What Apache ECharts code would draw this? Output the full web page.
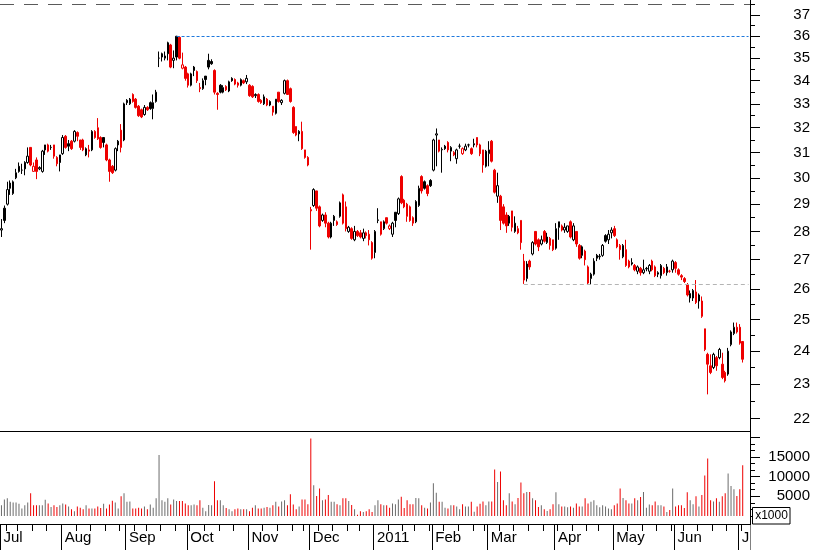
<!DOCTYPE html>
<html><head><meta charset="utf-8">
<script src="https://cdn.jsdelivr.net/npm/echarts@6/dist/echarts.min.js"></script>
<style>html,body{margin:0;padding:0;background:#fff}#c{width:817px;height:550px}</style>
</head><body><div id="c"></div>
<script>
// ---- trading calendar (explicit trading days per month) ----
const tradingDays = [
  ['2010-07', [1,2,6,7,8,9,12,13,14,15,16,19,20,21,22,23,26,27,28,29,30]],
  ['2010-08', [2,3,4,5,6,9,10,11,12,13,16,17,18,19,20,23,24,25,26,27,30,31]],
  ['2010-09', [1,2,3,7,8,9,10,13,14,15,16,17,20,21,22,23,24,27,28,29,30]],
  ['2010-10', [1,4,5,6,7,8,11,12,13,14,15,18,19,20,21,22,25,26,27,28,29]],
  ['2010-11', [1,2,3,4,5,8,9,10,11,12,15,16,17,18,19,22,23,24,26,29,30]],
  ['2010-12', [1,2,3,6,7,8,9,10,13,14,15,16,17,20,21,22,23,27,28,29,30,31]],
  ['2011-01', [3,4,5,6,7,10,11,12,13,14,18,19,20,21,24,25,26,27,28,31]],
  ['2011-02', [1,2,3,4,7,8,9,10,11,14,15,16,17,18,22,23,24,25,28]],
  ['2011-03', [1,2,3,4,7,8,9,10,11,14,15,16,17,18,21,22,23,24,25,28,29,30,31]],
  ['2011-04', [1,4,5,6,7,8,11,12,13,14,15,18,19,20,21,25,26,27,28,29]],
  ['2011-05', [2,3,4,5,6,9,10,11,12,13,16,17,18,19,20,23,24,25,26,27,31]],
  ['2011-06', [1,2,3,6,7,8,9,10,13,14,15,16,17,20,21,22,23,24,27,28,29,30]],
  ['2011-07', [1,5]]
];
const emptyDays = ['2011-07-06','2011-07-07'];

// ---- prices (one row per month) ----
const opens = [
  28.05,28.85,29.0,29.8,29.4,30.0,30.45,30.3,30.6,30.6,31.2,30.25,30.7,30.35,30.25,31.3,31.3,31.2,31.3,30.8,30.9,
  30.95,31.65,31.35,31.45,31.45,31.8,31.5,31.5,30.9,31.1,31.1,31.85,32.0,31.6,31.6,31.3,30.7,30.45,30.3,31.45,31.9,31.5,
  33.15,33.0,33.4,33.2,32.9,32.75,32.55,32.85,33.05,32.8,33.1,35.0,35.2,35.0,35.7,35.6,34.9,36.0,35.95,34.55,34.6,
  34.3,33.8,34.6,34.4,33.7,33.65,34.2,34.9,34.85,34.45,33.45,33.8,33.5,33.75,33.55,34.1,34.05,33.9,33.8,34.0,33.95,
  33.8,33.75,33.35,33.4,33.15,33.0,33.2,32.95,32.9,32.6,33.5,33.05,33.45,34.0,33.65,32.85,32.05,31.85,31.85,31.1,30.8,
  28.75,28.95,29.5,28.9,28.4,28.6,28.3,27.8,28.55,28.35,28.55,29.35,28.9,28.0,28.1,27.7,28.0,27.95,27.75,27.95,27.9,27.6,
  27.25,28.4,28.35,28.1,28.5,28.1,27.9,28.7,28.65,30.05,29.15,29.0,28.9,28.5,28.35,28.95,30.05,29.85,29.7,29.9,
  30.3,31.7,31.5,31.1,31.25,31.4,31.05,30.9,30.75,31.25,30.95,31.1,31.3,31.15,31.3,31.6,31.3,31.1,30.45,
  30.95,31.45,30.3,29.3,29.3,28.9,28.6,28.55,28.75,28.0,28.1,28.4,26.95,26.35,26.95,27.2,28.0,27.7,27.55,28.0,27.6,27.75,27.7,
  27.4,28.35,28.2,28.05,28.0,28.35,27.7,28.0,27.5,27.45,27.3,26.75,26.35,26.5,27.15,27.1,27.15,27.85,27.7,27.95,
  28.1,27.7,27.5,27.1,27.35,26.95,26.85,26.8,26.6,26.7,26.55,26.68,26.6,26.95,26.75,26.5,26.45,26.7,26.55,26.6,26.65,
  26.9,26.65,26.45,26.35,26.15,25.7,25.7,25.9,25.8,25.6,24.7,23.9,23.55,23.5,23.8,23.8,23.6,23.35,23.3,24.2,24.55,24.75,
  24.75,24.3
];
const closes = [
  28.1,28.4,29.55,29.6,29.85,30.2,30.25,30.3,30.35,30.85,30.5,30.45,30.25,30.4,31.05,31.1,31.05,31.2,30.85,30.55,30.6,
  31.6,31.2,31.25,31.15,31.85,31.65,31.2,31.1,31.15,31.05,31.85,31.6,31.55,31.2,31.4,30.7,30.25,30.2,31.15,31.3,31.2,33.0,
  33.05,33.2,33.1,32.85,32.5,32.45,32.85,32.75,32.8,33.05,33.5,35.0,35.05,35.1,35.2,34.6,35.0,35.05,35.0,34.7,34.1,
  33.8,34.3,34.45,34.0,33.65,34.0,34.05,34.6,34.75,33.5,33.4,33.5,33.7,33.6,33.95,34.0,33.85,33.8,34.05,33.9,34.1,
  33.35,33.3,33.4,33.1,33.05,33.3,32.95,33.1,32.65,33.2,33.1,33.15,34.0,33.4,33.1,31.8,31.7,31.75,31.15,30.8,30.5,
  28.8,29.55,28.85,28.2,28.6,28.3,27.8,28.3,28.4,28.25,29.05,28.3,28.1,28.15,27.75,28.0,27.85,27.8,27.95,27.85,27.7,27.05,
  28.0,28.42,27.9,28.35,28.3,28.2,28.3,28.4,29.2,29.05,28.9,28.55,28.4,28.3,29.1,29.6,29.5,29.6,29.4,29.7,
  31.5,31.75,31.05,31.12,31.15,31.1,31.2,31.0,31.1,31.25,31.15,31.25,31.3,30.95,31.35,31.3,30.95,30.5,31.05,
  31.1,30.65,29.45,29.7,28.4,28.3,28.2,28.3,28.15,28.3,27.95,27.6,26.3,26.85,26.75,27.6,27.55,27.45,27.7,27.65,27.8,27.5,27.35,
  28.1,28.15,28.05,28.15,28.2,27.8,28.2,27.55,27.05,27.15,27.0,26.2,26.5,26.95,27.05,27.12,27.5,27.65,27.9,28.05,
  27.85,27.45,27.35,27.5,26.8,26.75,26.9,26.65,26.75,26.55,26.65,26.7,26.8,26.65,26.45,26.55,26.8,26.55,26.75,26.6,26.95,
  26.7,26.5,26.4,26.25,25.8,25.85,25.95,25.55,25.6,25.1,24.05,23.6,23.35,23.9,23.55,24.05,23.2,23.1,24.0,24.6,24.75,24.6,
  24.25,23.75
];
const lows = [
  27.8,28.3,28.95,29.35,29.35,29.95,30.2,30.15,30.1,30.55,30.45,30.25,29.95,30.3,30.2,30.9,31.0,31.1,30.75,30.45,30.25,
  30.9,31.15,31.05,31.1,31.4,31.45,31.1,31.05,30.85,30.8,31.05,31.55,31.5,31.15,31.2,30.65,29.85,30.15,30.25,31.05,31.0,31.45,
  32.95,32.95,33.05,32.8,32.45,32.4,32.5,32.7,32.75,32.35,33.05,34.6,34.85,34.9,34.9,34.55,34.55,34.9,34.95,34.5,34.0,
  33.7,33.75,34.2,33.9,33.5,33.6,33.8,34.5,34.7,33.4,32.75,33.45,33.45,33.55,33.5,33.95,33.8,33.7,33.75,33.85,33.85,
  33.3,33.25,33.25,33.05,33.0,32.95,32.9,32.9,32.5,32.55,33.05,32.95,33.4,33.4,33.05,31.75,31.65,31.45,31.1,30.75,30.45,
  27.35,28.9,28.75,28.15,28.35,28.15,27.75,27.75,28.2,28.2,28.5,28.25,28.0,27.95,27.7,27.65,27.8,27.75,27.65,27.75,27.5,27.0,
  27.05,28.3,27.85,28.05,28.25,28.05,27.8,28.15,28.6,29.0,28.85,28.35,28.35,28.2,28.3,28.9,29.4,29.55,29.3,29.65,
  30.25,30.45,31.0,30.2,31.1,31.0,30.65,30.85,30.55,31.15,30.9,31.05,31.2,30.9,31.2,31.2,30.85,30.2,30.4,
  30.45,30.6,29.4,29.05,28.05,28.25,27.95,28.2,28.0,27.95,27.9,27.35,26.17,26.25,26.65,27.15,27.5,27.3,27.5,27.6,27.55,27.35,27.3,
  27.35,27.7,28.0,27.95,27.95,27.75,27.65,27.45,27.0,27.05,26.8,26.15,26.15,26.45,26.95,27.0,27.1,27.6,27.55,27.75,
  27.8,27.4,27.0,27.05,26.75,26.7,26.8,26.6,26.5,26.45,26.5,26.6,26.5,26.6,26.4,26.4,26.35,26.5,26.45,26.55,26.55,
  26.55,26.45,26.3,26.2,25.75,25.55,25.6,25.5,25.35,25.05,24.0,22.7,23.3,23.45,23.4,23.75,23.15,23.05,23.25,24.15,24.5,24.55,
  24.2,23.65
];
const highs = [
  28.45,28.95,29.85,29.9,29.9,30.35,30.6,30.55,30.65,31.2,31.2,30.6,30.8,30.45,31.1,31.3,31.35,31.3,31.3,30.85,30.9,
  31.7,31.7,31.5,31.5,31.9,31.85,31.5,31.55,31.2,31.3,31.9,31.9,32.4,31.65,31.62,31.35,30.75,30.5,31.2,31.5,32.15,33.05,
  33.2,33.25,33.45,33.25,32.95,32.8,32.95,32.9,33.1,33.4,33.6,35.3,35.25,35.3,35.75,35.65,35.35,36.02,36.0,35.25,34.65,
  34.35,34.35,34.65,34.45,33.9,34.1,34.2,35.2,34.95,34.5,33.5,33.85,33.8,33.8,34.0,34.15,34.1,33.95,34.1,34.05,34.25,
  33.85,33.8,33.45,33.45,33.2,33.4,33.25,33.15,32.9,33.2,33.5,33.2,34.05,34.05,33.7,32.9,32.05,31.9,32.25,31.1,30.85,
  28.9,29.6,29.5,28.95,28.65,28.7,28.35,28.35,28.6,28.4,29.1,29.4,29.1,28.2,28.15,28.2,28.05,28.05,28.1,28.0,28.05,27.65,
  28.05,28.85,28.35,28.4,28.5,28.25,28.35,28.7,29.25,30.1,29.2,29.05,28.95,28.55,29.15,29.7,30.1,29.9,29.75,29.95,
  31.55,31.97,31.5,31.2,31.3,31.45,31.25,31.05,31.15,31.35,31.2,31.35,31.35,31.2,31.55,31.6,31.35,31.1,31.1,
  31.45,31.5,30.35,30.2,29.35,29.0,28.7,28.6,28.75,28.55,28.2,28.4,27.2,26.95,27.0,27.65,28.0,27.75,27.85,28.05,27.95,27.8,27.7,
  28.3,28.35,28.25,28.3,28.2,28.4,28.3,28.0,27.55,27.5,27.35,26.8,26.55,27.05,27.2,27.2,27.55,27.9,28.05,28.15,
  28.2,27.75,27.55,27.55,27.7,27.0,27.05,26.85,26.8,26.75,27.0,26.75,26.85,27.0,26.8,26.6,26.85,26.75,26.85,26.65,27.0,
  26.95,26.7,26.5,26.4,26.2,25.95,26.0,26.3,25.85,25.75,24.7,23.95,23.9,23.95,23.85,24.1,23.95,23.4,24.1,24.65,24.9,24.9,
  24.85,24.3
];
// volume in thousands of shares
const volumes = [
  2700,4200,4500,3600,3400,3400,3100,1900,2700,3400,5800,2700,2700,2700,2700,4100,3200,2300,2700,2300,2700,
  3200,2900,2400,1700,1200,2400,2100,1700,2700,1900,1900,1900,2400,2000,3100,1900,2900,3900,3400,1900,5000,5800,
  3600,3700,1900,1900,2100,1900,2400,1700,2900,2100,4500,15500,4000,3600,4500,2900,4200,3800,3800,3800,3200,
  2700,2700,2900,2700,4000,2100,1200,2800,2700,8800,4000,4000,2700,2000,1700,1200,1700,1900,1700,1700,1700,
  1200,2100,2700,1900,1900,2100,2300,2100,2700,3600,2400,3700,4000,2700,5500,2900,1700,2400,4200,4200,3000,
  19700,7800,5100,7000,4000,4200,5300,3600,3600,3000,2700,4500,4500,3800,2800,1700,300,1200,1000,1200,1700,1000,
  2700,4000,3000,2700,2700,2100,3200,3000,4200,4900,2000,4000,3000,3000,4600,4500,2700,2100,1900,3400,
  8300,5900,3600,3600,2100,1900,2700,2700,2400,1700,3000,2400,2400,3600,1100,2400,3100,3700,2700,
  3700,3700,11800,8600,11300,4000,2700,5800,3700,3000,4600,8500,5800,6100,6100,4500,4000,2300,2700,1700,1300,1700,3000,
  6000,3000,2400,2400,2200,2400,2100,3200,2400,2400,4500,3200,3600,4000,2700,2200,2700,2400,1900,1700,
  2700,3200,7000,4600,4000,3200,3200,4500,4000,4800,6100,2100,2900,2700,3700,2700,2700,2400,1000,1500,7000,
  2400,2700,2700,2000,6000,4000,3000,5000,2400,5300,10300,14600,4000,3700,4500,3600,5000,5800,10800,7600,6800,5100,
  6800,12900
];

// ---- axis ticks / labels / reference levels ----
const priceTicks = [22,23,24,25,26,27,28,29,30,31,32,33,34,35,36,37];
const priceMinorTicks = [22.5,23.5,24.5,25.5,26.5,27.5,28.5,29.5,30.5,31.5,32.5,33.5,34.5,35.5,36.5,37.5];
const volumeTicks = [0,5000,10000,15000,20000];
const volumeLabels = [5000,10000,15000];
const volumeMinorTicks = [1667,3333,6667,8333,11667,13333,16667,18333];
const monthNames = ['Jan','Feb','Mar','Apr','May','Jun','Jul','Aug','Sep','Oct','Nov','Dec'];
const topLevel = 37.53;
const highLevel = {from: '2010-09-27', value: 36.02};
const supportLevel = {from: '2011-03-17', value: 26.17};

// ---- build ----
const dates = [];
tradingDays.forEach(([ym, ds]) => ds.forEach(d => dates.push(ym + '-' + String(d).padStart(2, '0'))));
const categories = dates.concat(emptyDays);
const lastCat = categories[categories.length - 1];
const dow = s => new Date(s + 'T00:00:00Z').getUTCDay();
const monthStart = categories.map((d, i) => i === 0 || d.slice(0, 7) !== categories[i - 1].slice(0, 7));
const weekStart = categories.map((d, i) => i > 0 && dow(d) <= dow(categories[i - 1]));

const BLACK = '#000000', RED = '#ee0000', VGRAY = '#6b6b6b';
const candleData = opens.map((o, i) => {
  const c = closes[i];
  const up = i === 0 ? true : c >= closes[i - 1];
  const col = up ? BLACK : RED;
  const fill = c > o ? '#ffffff' : col;
  return {value: [o, c, lows[i], highs[i]],
    itemStyle: {color: fill, color0: fill, borderColor: col, borderColor0: col, borderColorDoji: col}};
});
const volData = volumes.map((v, i) => {
  const up = i === 0 ? true : closes[i] >= closes[i - 1];
  return {value: v, itemStyle: {color: up ? VGRAY : RED}};
});

const FONT = '"Liberation Sans", Arial, sans-serif';
const chart = echarts.init(document.getElementById('c'), null, {renderer: 'canvas'});
chart.setOption({
  animation: false,
  backgroundColor: '#ffffff',
  grid: [
    {left: 0, top: 0, width: 750, height: 431},
    {left: 0, top: 431, width: 750, height: 93}
  ],
  xAxis: [
    {gridIndex: 0, type: 'category', data: categories, boundaryGap: true,
      axisLine: {show: true, onZero: false, lineStyle: {color: BLACK, width: 1}},
      axisTick: {show: false}, axisLabel: {show: false}, splitLine: {show: false}},
    {gridIndex: 1, type: 'category', data: categories, boundaryGap: true, position: 'bottom',
      axisLine: {show: true, onZero: false, lineStyle: {color: BLACK, width: 1}},
      axisTick: {show: true, length: 26, interval: (i) => monthStart[i], lineStyle: {color: BLACK}},
      axisLabel: {show: true, interval: (i) => monthStart[i], align: 'left', margin: 6,
        padding: [0, 0, 0, 2], fontSize: 15, fontFamily: FONT, color: BLACK,
        formatter: (v) => { const m = +v.slice(5, 7); return m === 1 ? v.slice(0, 4) : monthNames[m - 1]; }},
      splitLine: {show: false}},
    {gridIndex: 1, type: 'category', data: categories, boundaryGap: true, position: 'bottom',
      axisLine: {show: false, onZero: false},
      axisTick: {show: true, length: 7, interval: (i) => weekStart[i], lineStyle: {color: BLACK}},
      axisLabel: {show: false}, splitLine: {show: false}}
  ],
  yAxis: [
    {gridIndex: 0, type: 'log', position: 'right', offset: 0, min: 21.654, max: 37.722,
      axisLine: {show: true, lineStyle: {color: BLACK}},
      axisTick: {show: true, length: 10, customValues: priceTicks, lineStyle: {color: BLACK}},
      axisLabel: {show: true, customValues: priceTicks, align: 'right', margin: 60,
        fontSize: 15, fontFamily: FONT, color: BLACK, formatter: (v) => String(Math.round(v))},
      splitLine: {show: false}, minorTick: {show: false}},
    {gridIndex: 0, type: 'log', position: 'right', offset: 0, min: 21.654, max: 37.722,
      axisLine: {show: false},
      axisTick: {show: true, length: 5, customValues: priceMinorTicks, lineStyle: {color: BLACK}},
      axisLabel: {show: false}, splitLine: {show: false}},
    {gridIndex: 1, type: 'value', position: 'right', offset: 0, min: -2030, max: 21574,
      axisLine: {show: true, lineStyle: {color: BLACK}},
      axisTick: {show: true, length: 10, customValues: volumeTicks, lineStyle: {color: BLACK}},
      axisLabel: {show: true, customValues: volumeLabels, align: 'right', margin: 60,
        fontSize: 15, fontFamily: FONT, color: BLACK, formatter: (v) => String(Math.round(v))},
      splitLine: {show: false}},
    {gridIndex: 1, type: 'value', position: 'right', offset: 0, min: -2030, max: 21574,
      axisLine: {show: false},
      axisTick: {show: true, length: 5, customValues: volumeMinorTicks, lineStyle: {color: BLACK}},
      axisLabel: {show: false}, splitLine: {show: false}}
  ],
  series: [
    {type: 'candlestick', xAxisIndex: 0, yAxisIndex: 0, data: candleData, barWidth: 2,
      itemStyle: {borderWidth: 1},
      markLine: {silent: true, symbol: ['none', 'none'], label: {show: false}, animation: false,
        emphasis: {disabled: true},
        data: [
          {yAxis: topLevel, lineStyle: {color: '#5a5a5a', type: [14, 10], width: 1}},
          [{coord: [highLevel.from, highLevel.value], lineStyle: {color: '#1e78dc', type: [3, 2], width: 1}},
           {coord: [lastCat, highLevel.value], lineStyle: {color: '#1e78dc', type: [3, 2], width: 1}}],
          [{coord: [supportLevel.from, supportLevel.value], lineStyle: {color: '#b4b4b4', type: [4, 3], width: 1}},
           {coord: [lastCat, supportLevel.value], lineStyle: {color: '#b4b4b4', type: [4, 3], width: 1}}]
        ]}},
    {type: 'bar', xAxisIndex: 1, yAxisIndex: 2, data: volData, barWidth: 1}
  ],
  graphic: [
    {type: 'rect', shape: {x: 750.5, y: 525, width: 67, height: 25}, style: {fill: '#ffffff'}, z: 100, silent: true},
    {type: 'rect', shape: {x: 752.5, y: 507.5, width: 37.5, height: 16.5}, style: {fill: '#ffffff', stroke: '#000000', lineWidth: 1}, z: 101, silent: true},
    {type: 'text', x: 771.5, y: 515.5, style: {text: 'x1000', font: '12px ' + FONT, fill: '#000000', align: 'center', verticalAlign: 'middle'}, z: 102, silent: true}
  ]
});
</script>
</body></html>
